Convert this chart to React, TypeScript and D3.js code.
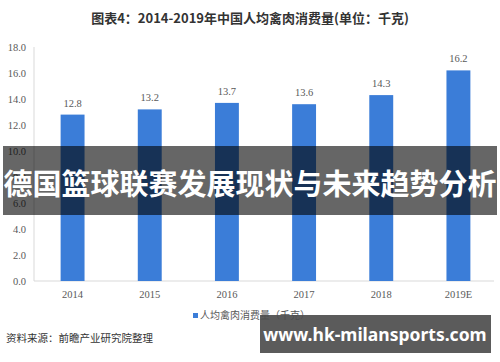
import React from 'react';
import * as d3 from 'd3';

const width = 500;
const height = 362;
const margin = { top: 47, right: 3, bottom: 81, left: 34 };

const years = ['2014', '2015', '2016', '2017', '2018', '2019E'];
const values = [12.8, 13.2, 13.7, 13.6, 14.3, 16.2];
const yTicks = [0, 2, 4, 6, 8, 10, 12, 14, 16, 18];

const title = '图表4：2014-2019年中国人均禽肉消费量(单位：千克)';
const legendLabel = '人均禽肉消费量（千克）';
const sourceLabel = '资料来源：前瞻产业研究院整理';
const bannerText = '德国篮球联赛发展现状与未来趋势分析';
const siteText = 'www.hk-milansports.com';

const serif = '"Liberation Serif", "DejaVu Serif", serif';
const cjk = '"Noto Sans CJK SC", "Noto Sans", sans-serif';

export default function App() {
  const plotBottom = height - margin.bottom;
  const x = d3
    .scaleBand()
    .domain(years)
    .range([margin.left, width - margin.right])
    .paddingInner(0.69)
    .paddingOuter(0.345);
  const y = d3.scaleLinear().domain([0, 18]).range([plotBottom, margin.top]);

  return (
    <svg width={width} height={height} style={{ position: 'absolute', left: 0, top: 0, background: '#fff' }}>
      <rect x={0} y={0} width={width} height={height} fill="#fff" />
      {/* title */}
      <text x={250} y={23} textAnchor="middle" fontFamily={cjk} fontWeight="bold" fontSize={13} fill="#333">
        {title}
      </text>

      {/* axes */}
      <line x1={margin.left} x2={margin.left} y1={margin.top} y2={plotBottom} stroke="#d9d9d9" />
      <line x1={margin.left} x2={width - 6} y1={plotBottom} y2={plotBottom} stroke="#d9d9d9" />
      {yTicks.map(t => (
        <text key={t} x={26} y={y(t) + 4} textAnchor="end" fontFamily={serif} fontSize={10.5} fill="#595959">
          {t.toFixed(1)}
        </text>
      ))}

      {/* bars */}
      {values.map((v, i) => (
        <g key={years[i]}>
          <rect x={x(years[i])} y={y(v)} width={x.bandwidth()} height={plotBottom - y(v)} fill="#3b7dd8" />
          <text
            x={(x(years[i]) as number) + x.bandwidth() / 2}
            y={y(v) - 8}
            textAnchor="middle"
            fontFamily={serif}
            fontSize={10.5}
            fill="#595959"
          >
            {v.toFixed(1)}
          </text>
          <text
            x={(x(years[i]) as number) + x.bandwidth() / 2}
            y={plotBottom + 17}
            textAnchor="middle"
            fontFamily={serif}
            fontSize={10.5}
            fill="#595959"
          >
            {years[i]}
          </text>
        </g>
      ))}

      {/* legend */}
      <rect x={193} y={313} width={5} height={5} fill="#3b7dd8" />
      <text x={200} y={319} fontFamily={cjk} fontSize={10} fill="#595959">
        {legendLabel}
      </text>

      {/* source */}
      <text x={6} y={342} fontFamily={cjk} fontSize={10.5} fill="#333">
        {sourceLabel}
      </text>

      {/* overlay banner */}
      <rect x={3} y={146} width={494} height={69} fill="#000" fillOpacity={0.6} />
      <text x={250} y={195} textAnchor="middle" fontFamily={cjk} fontWeight="bold" fontSize={29} fill="#fff">
        {bannerText}
      </text>

      {/* site watermark */}
      <rect x={260} y={315} width={231} height={38} fill="#4d4d4d" fillOpacity={0.92} />
      <text x={375} y={341} textAnchor="middle" fontFamily='"Noto Sans", "Open Sans", sans-serif' fontWeight="bold" fontSize={17.5} fill="#fff">
        {siteText}
      </text>
    </svg>
  );
}
